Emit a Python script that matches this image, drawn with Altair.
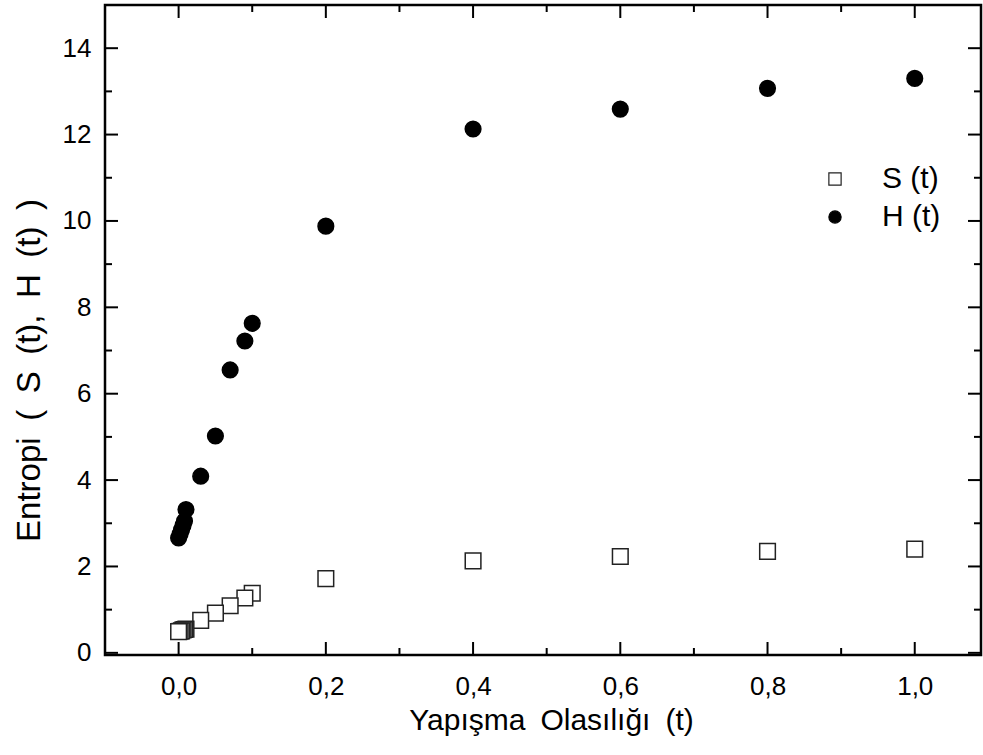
import altair as alt
import pandas as pd

# Sticking probability t and the two entropy measures
t_values = [0, 0.002, 0.004, 0.006, 0.008, 0.01, 0.03, 0.05, 0.07, 0.09, 0.1,
            0.2, 0.4, 0.6, 0.8, 1.0]
s_values = [0.49, 0.50, 0.51, 0.53, 0.54, 0.55, 0.75, 0.92, 1.09, 1.27, 1.38,
            1.72, 2.13, 2.23, 2.35, 2.40]
h_values = [2.66, 2.75, 2.85, 2.95, 3.05, 3.32, 4.09, 5.02, 6.55, 7.22, 7.63,
            9.88, 12.13, 12.59, 13.07, 13.30]
series_names = ["S (t)", "H (t)"]

# Tick positions (inward ticks drawn on all four sides)
x_major = [0.0, 0.2, 0.4, 0.6, 0.8, 1.0]
x_minor = [0.1, 0.3, 0.5, 0.7, 0.9]
y_major = [0, 2, 4, 6, 8, 10, 12, 14]
y_minor = [1, 3, 5, 7, 9, 11, 13]

W, H = 876, 650
FONT = "Liberation Sans"
MAJOR, MINOR = 13, 7
WIDE = "\u2002"  # en space: the axis titles use wide word spacing

x_title = "Yapışma Olasılığı (t)".replace(" ", WIDE)
y_title = "Entropi ( S (t), H (t) )".replace(" ", WIDE)

df = pd.DataFrame(
    {"t": t_values * 2,
     "val": s_values + h_values,
     "series": [series_names[0]] * len(t_values) + [series_names[1]] * len(t_values)}
)

x_scale = alt.Scale(domain=[-0.1, 1.09], nice=False, zero=False)
y_scale = alt.Scale(domain=[-0.05, 15], nice=False, zero=False)

legend = alt.Legend(title=None, orient="none", legendX=715, legendY=159,
                    labelFontSize=30, labelFont=FONT, labelOffset=32,
                    rowPadding=8, symbolSize=150, symbolStrokeWidth=1.2)

points = alt.Chart(df).mark_point(
    filled=True, opacity=1, strokeWidth=1.5, size=245
).encode(
    x=alt.X("t:Q", scale=x_scale,
            axis=alt.Axis(title=x_title, values=x_major,
                          labelExpr="replace(format(datum.value, '.1f'), '.', ',')",
                          grid=False, domain=False, ticks=False,
                          labelPadding=18, titleX=446, titleY=50, titleFontSize=30)),
    y=alt.Y("val:Q", scale=y_scale,
            axis=alt.Axis(title=y_title, values=y_major,
                          format="d", grid=False, domain=False, ticks=False,
                          labelPadding=14, titleX=-59, titleY=365, titleFontSize=33)),
    shape=alt.Shape("series:N", sort=series_names,
                    scale=alt.Scale(domain=series_names, range=["square", "circle"]),
                    legend=legend),
    fill=alt.Fill("series:N", sort=series_names,
                  scale=alt.Scale(domain=series_names, range=["white", "black"]),
                  legend=legend),
    stroke=alt.Stroke("series:N", sort=series_names,
                      scale=alt.Scale(domain=series_names, range=["#222222", "#000000"]),
                      legend=legend),
    order=alt.Order("t:Q", sort="descending"),
)


def x_ticks(values, length):
    base = alt.Chart(pd.DataFrame({"t": values})).mark_rule(color="black", strokeWidth=2)
    bottom = base.encode(x=alt.X("t:Q", scale=x_scale),
                         y=alt.value(H), y2=alt.value(H - length))
    top = base.encode(x=alt.X("t:Q", scale=x_scale),
                      y=alt.value(0), y2=alt.value(length))
    return bottom + top


def y_ticks(values, length):
    base = alt.Chart(pd.DataFrame({"val": values})).mark_rule(color="black", strokeWidth=2)
    left = base.encode(y=alt.Y("val:Q", scale=y_scale),
                       x=alt.value(0), x2=alt.value(length))
    right = base.encode(y=alt.Y("val:Q", scale=y_scale),
                        x=alt.value(W), x2=alt.value(W - length))
    return left + right


chart = alt.layer(
    points,
    x_ticks(x_major, MAJOR), x_ticks(x_minor, MINOR),
    y_ticks(y_major, MAJOR), y_ticks(y_minor, MINOR),
).properties(
    width=W, height=H,
    autosize=alt.AutoSizeParams(type="none"),
    padding={"left": 105, "top": 5, "right": 2, "bottom": 100},
    background="white",
).configure_view(
    stroke="black", strokeWidth=2.5
).configure_axis(
    labelFont=FONT, labelFontSize=26, labelColor="black",
    titleFont=FONT, titleFontWeight="normal", titleColor="black",
).configure_legend(
    labelColor="black"
)

chart.save("out.html", embed_options={"renderer": "svg", "actions": False})
